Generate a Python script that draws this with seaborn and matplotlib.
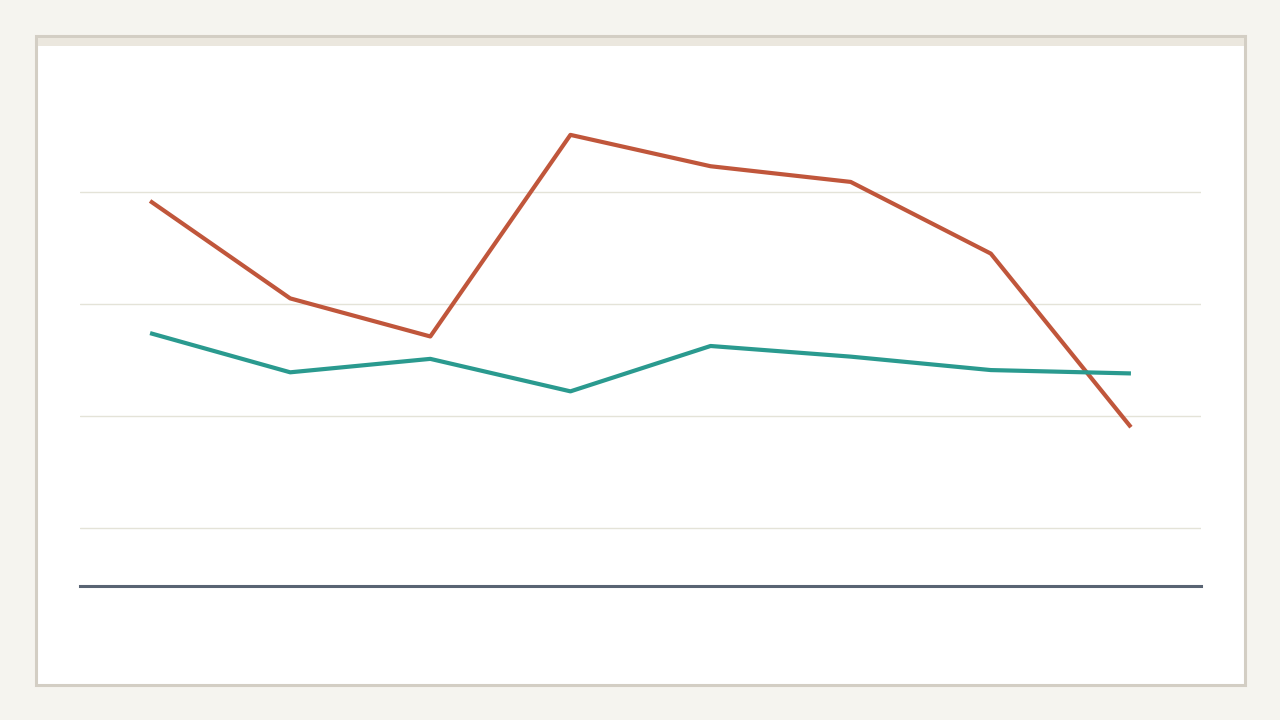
import pandas as pd
import matplotlib.pyplot as plt
import seaborn as sns
from matplotlib.patches import Rectangle

# Data (no labels shown)
periode = [0, 1, 2, 3, 4, 5, 6, 7]
seri_merah = [39.2, 30.5, 27.1, 45.1, 42.3, 40.9, 34.5, 19.0]
seri_teal = [27.4, 23.9, 25.1, 22.2, 26.25, 25.3, 24.1, 23.8]
grid_ticks = [10, 20, 30, 40]

data = pd.concat([
    pd.DataFrame({'x': periode, 'y': seri_merah, 'seri': 'merah'}),
    pd.DataFrame({'x': periode, 'y': seri_teal, 'seri': 'teal'}),
])

sns.set_theme(style='white')
fig = plt.figure(figsize=(12.8, 7.2), dpi=100)
fig.patch.set_facecolor('#F5F4EF')

# card background
fig.patches.append(Rectangle((36 / 1280, 1 - 685 / 720), 1209 / 1280, 649 / 720,
                             transform=fig.transFigure, facecolor='white',
                             edgecolor='#D3CEC4', linewidth=2.2, zorder=-2))
fig.patches.append(Rectangle((37.5 / 1280, 1 - 46 / 720), 1206 / 1280, 8 / 720,
                             transform=fig.transFigure, facecolor='#EBE7DE',
                             edgecolor='none', zorder=-1))

ax = fig.add_axes([80 / 1280, 134 / 720, 1121 / 1280, 472.4 / 720])
ax.set_facecolor('none')
ax.set_zorder(2)

sns.lineplot(data=data, x='x', y='y', hue='seri',
             palette={'merah': '#C0563B', 'teal': '#2A9A8F'},
             linewidth=3, legend=False, ax=ax, solid_capstyle='butt')

ax.set_xlim(-0.5, 7.5)
ax.set_ylim(4.82, 47)
ax.set_yticks(grid_ticks)
ax.yaxis.grid(True, color='#E4E3D8', linewidth=1)
ax.xaxis.grid(False)
ax.set_axisbelow(True)
ax.tick_params(left=False, bottom=False, labelleft=False, labelbottom=False)
ax.set_xlabel('')
ax.set_ylabel('')
for s in ['top', 'left', 'right']:
    ax.spines[s].set_visible(False)
ax.spines['bottom'].set_color('#596473')
ax.spines['bottom'].set_linewidth(2.2)

plt.savefig('out.png', dpi=100, facecolor=fig.get_facecolor())
